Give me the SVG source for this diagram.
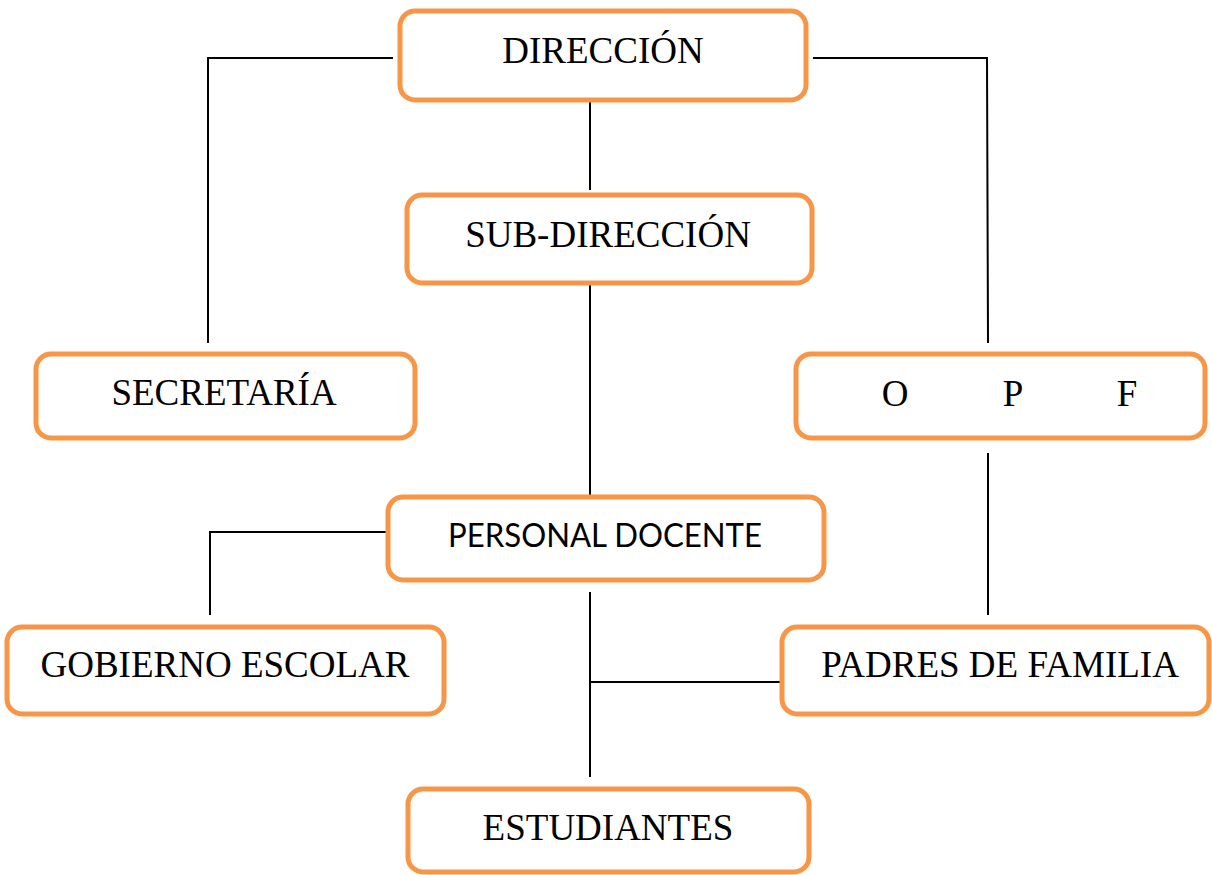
<svg xmlns="http://www.w3.org/2000/svg" width="1212" height="875" viewBox="0 0 1212 875">
<style>
.box{fill:#fff;stroke:#F79646;stroke-width:5}
.t{font-family:"Liberation Serif","Times New Roman",serif;font-size:37px;fill:#000;text-anchor:middle}
.s{font-family:Lato,"Liberation Sans",Arial,sans-serif;font-size:32px;fill:#000;text-anchor:middle}
.c{stroke:#000;stroke-width:2;fill:none}
</style>
<rect width="1212" height="875" fill="#fff"/>
<g id="connectors">
<polyline class="c" points="393,58 208,58 208,343"/>
<polyline class="c" points="813,58 987,58 988,343"/>
<line class="c" x1="590" y1="101" x2="590" y2="190"/>
<line class="c" x1="590" y1="285" x2="590" y2="495"/>
<polyline class="c" points="386,532 210,532 210,615"/>
<line class="c" x1="988" y1="453" x2="988" y2="615"/>
<line class="c" x1="590" y1="592" x2="590" y2="777"/>
<line class="c" x1="590" y1="682" x2="781" y2="682"/>
</g>
<g id="direccion">
<rect class="box" x="400" y="11" width="406" height="89" rx="15"/>
<text class="t" x="603" y="63">DIRECCIÓN</text>
</g>
<g id="subdireccion">
<rect class="box" x="407" y="195" width="405" height="88" rx="15"/>
<text class="t" x="608" y="247">SUB-DIRECCIÓN</text>
</g>
<g id="secretaria">
<rect class="box" x="36" y="354" width="379" height="84" rx="15"/>
<text class="t" x="224" y="405">SECRETARÍA</text>
</g>
<g id="opf">
<rect class="box" x="796" y="354" width="409" height="84" rx="15"/>
<text class="t" x="895" y="406">O</text>
<text class="t" x="1013" y="406">P</text>
<text class="t" x="1127" y="406">F</text>
</g>
<g id="personal-docente">
<rect class="box" x="388" y="497" width="436" height="83" rx="15"/>
<text class="s" x="605" y="547" textLength="314" lengthAdjust="spacingAndGlyphs">PERSONAL DOCENTE</text>
</g>
<g id="gobierno-escolar">
<rect class="box" x="7" y="627" width="437" height="87" rx="15"/>
<text class="t" x="225" y="677">GOBIERNO ESCOLAR</text>
</g>
<g id="padres-de-familia">
<rect class="box" x="782" y="627" width="427" height="87" rx="15"/>
<text class="t" x="1000" y="677">PADRES DE FAMILIA</text>
</g>
<g id="estudiantes">
<rect class="box" x="408" y="789" width="401" height="83" rx="15"/>
<text class="t" x="608" y="840">ESTUDIANTES</text>
</g>
</svg>
